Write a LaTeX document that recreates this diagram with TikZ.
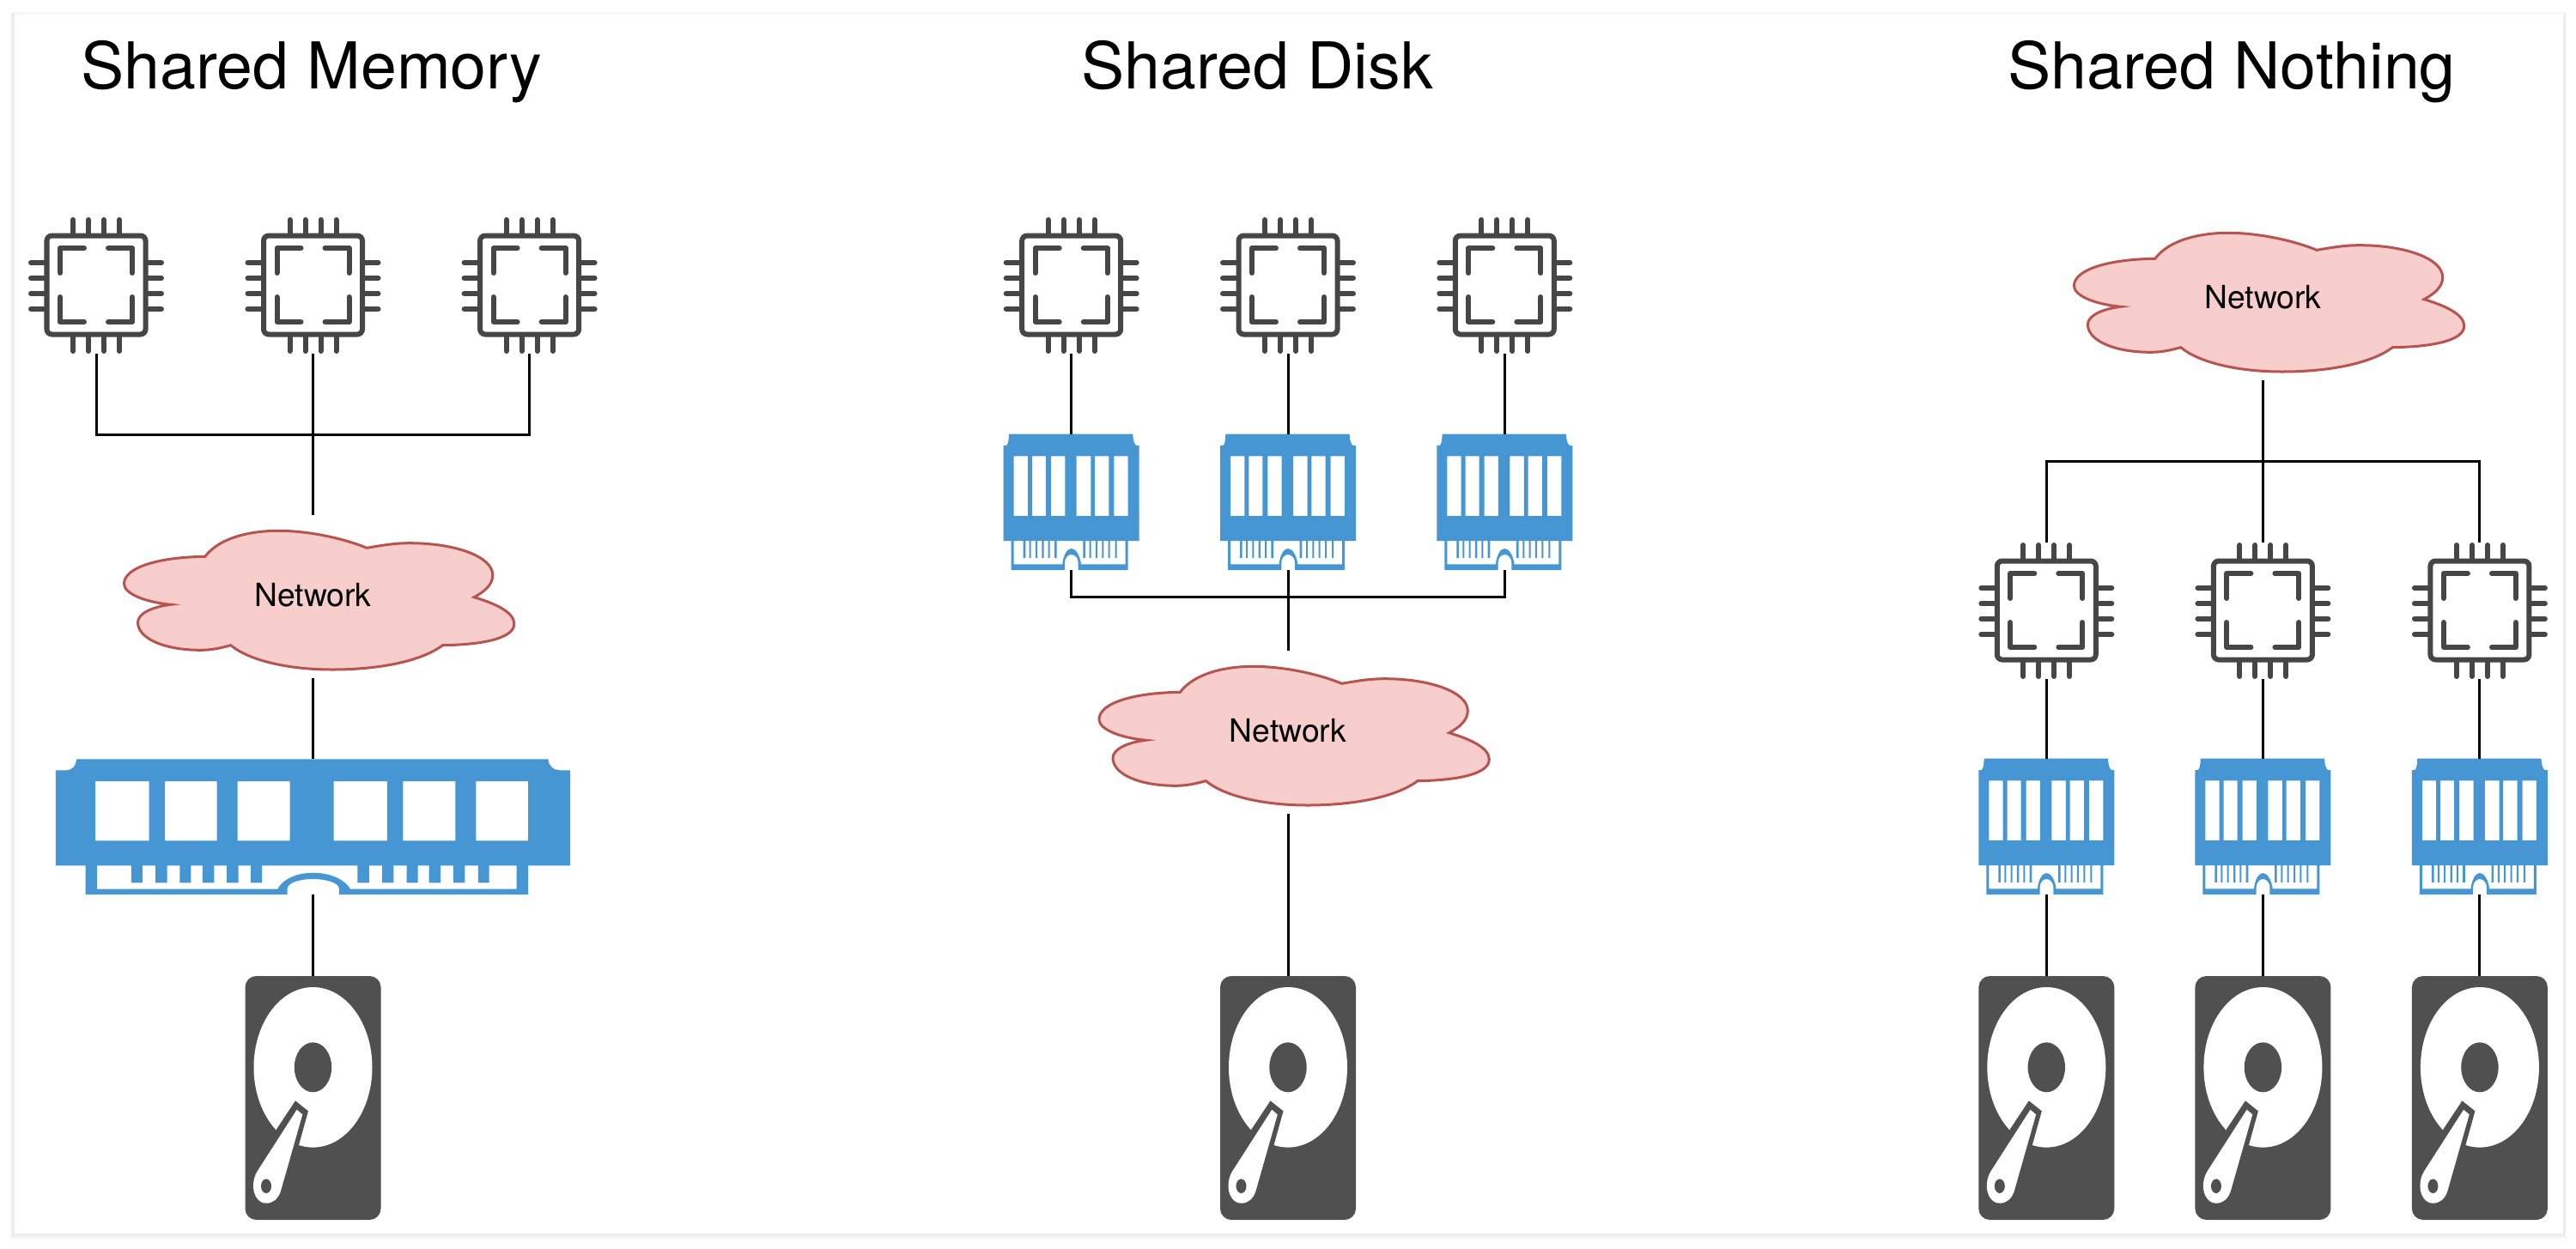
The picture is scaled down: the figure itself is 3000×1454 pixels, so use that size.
\documentclass[tikz,border=0pt]{standalone}
\usepackage{fontspec}
\setmainfont{TeX Gyre Heros}
\definecolor{ramblue}{HTML}{4596D2}
\definecolor{chipgray}{HTML}{464646}
\definecolor{diskgray}{HTML}{505050}
\definecolor{cloudfill}{HTML}{F8CECC}
\definecolor{cloudline}{HTML}{B85450}
\tikzset{
  link/.style={draw=black,line width=0.03cm},
  chipline/.style={draw=chipgray,line width=0.06cm,line cap=round},
  ramfill/.style={fill=ramblue,even odd rule},
  title/.style={font=\fontsize{21.4}{24}\selectfont,anchor=base west,inner sep=0pt},
  netlabel/.style={font=\fontsize{10.6}{12}\selectfont,inner sep=0pt},
  cpu/.pic={
    \draw[chipline,fill=white,rounded corners=0.06cm] (-57.5,-57.5) rectangle (57.5,57.5);
    % pins
    \draw[chipline] (-27,-76) -- (-27,-60) (-9,-76) -- (-9,-60) (9,-76) -- (9,-60) (27,-76) -- (27,-60)
      (-27,60) -- (-27,77) (-9,60) -- (-9,77) (9,60) -- (9,77) (27,60) -- (27,77)
      (-76,-26) -- (-60,-26) (-76,-8) -- (-60,-8) (-76,10) -- (-60,10) (-76,28) -- (-60,28)
      (60,-26) -- (76,-26) (60,-8) -- (76,-8) (60,10) -- (76,10) (60,28) -- (76,28);
    % inner corners
    \draw[chipline,line join=round] (-42,-14) -- (-42,-43) -- (-14,-43) (14,-43) -- (42,-43) -- (42,-14)
      (-42,14) -- (-42,43) -- (-14,43) (14,43) -- (42,43) -- (42,14);
    \coordinate (-n) at (0,-79);
    \coordinate (-s) at (0,80);
  },
  bigram/.pic={
    \fill[ramfill] (-275.6,-75.7) -- (274,-75.7) .. controls (274,-68) and (280,-62.7) .. (288.4,-62.7)
      -- (299.7,-62.7) -- (299.7,48.3) -- (250.5,48.3) -- (250.5,82) -- (30.4,82) -- (30.4,75)
      .. controls (30.4,69) and (17,64) .. (0,64) .. controls (-17,64) and (-29.8,69) .. (-29.8,75)
      -- (-29.8,82) -- (-265,82) -- (-265,48.3) -- (-299.6,48.3) -- (-299.6,-62.7) -- (-288,-62.7)
      .. controls (-280,-62.7) and (-275.6,-68) .. (-275.6,-75.7) -- cycle
      % windows
      (-253.3,-50) rectangle (-191,19.3) (-172.5,-50) rectangle (-111.9,19.3) (-87.9,-50) rectangle (-26.9,19.3)
      (24,-50) rectangle (86.4,19.3) (104.9,-50) rectangle (165.9,19.3) (189.9,-50) rectangle (250.5,19.3)
      % slot
      (-251.6,48.3) -- (237,48.3) -- (237,75.7) -- (43.4,75.7) .. controls (38,65) and (20,56.7) .. (0,56.7)
      .. controls (-20,56.7) and (-36,65) .. (-41.2,75.7) -- (-251.6,75.7) -- cycle;
    % teeth
    \fill[ramblue] (-211.6,48) rectangle (-198.6,68.3) (-183.4,48) rectangle (-170,68.3) (-155.2,48) rectangle (-142.2,68.3)
      (-128.7,48) rectangle (-115.2,68.3) (-100.5,48) rectangle (-87,68.3) (-72.3,48) rectangle (-59.3,68.3)
      (51.8,48) rectangle (65.3,68.3) (80.5,48) rectangle (93.9,68.3) (109.1,48) rectangle (122.1,68.3)
      (135.2,48) rectangle (148.6,68.3) (163.4,48) rectangle (176.8,68.3) (192.4,48) rectangle (205,68.3);
    \coordinate (-n) at (0,-76);
    \coordinate (-s) at (0,82);
  },
  ram/.pic={
    \fill[ramfill] (-72.7,-79.3) -- (71.6,-79.3) .. controls (71.6,-72) and (74,-66) .. (76,-66)
      -- (79,-66) -- (79,45) -- (66,45) -- (66,79) -- (8,79) -- (8,70)
      .. controls (8,65) and (4,61) .. (0,61) .. controls (-4,61) and (-7.7,65) .. (-7.7,70)
      -- (-7.7,79) -- (-70,79) -- (-70,45) -- (-79,45) -- (-79,-66) -- (-76,-66)
      .. controls (-74,-66) and (-72.7,-72) .. (-72.7,-79.3) -- cycle
      % windows
      (-67,-53.7) rectangle (-50.7,16) (-45.7,-53.7) rectangle (-29.7,16) (-23.7,-53.7) rectangle (-7.4,16)
      (6,-53.7) rectangle (22.6,16) (27.3,-53.7) rectangle (43.7,16) (49.6,-53.7) rectangle (66,16)
      % slot
      (-67,45) -- (63,45) -- (63,72.3) -- (11.3,72.3) .. controls (10,62) and (5,54) .. (0,54)
      .. controls (-5,54) and (-9.5,62) .. (-10.4,72.3) -- (-67,72.3) -- cycle;
    % teeth
    \fill[ramblue] (-56,44.8) rectangle (-53.4,65) (-49,44.8) rectangle (-47,65) (-41.7,44.8) rectangle (-39.7,65)
      (-34.4,44.8) rectangle (-32,65) (-27,44.8) rectangle (-25,65) (-19.7,44.8) rectangle (-17,65)
      (13.6,44.8) rectangle (16.3,65) (21,44.8) rectangle (23,65) (28.3,44.8) rectangle (30.3,65)
      (35.6,44.8) rectangle (37.6,65) (43,44.8) rectangle (45,65) (51,44.8) rectangle (53,65);
    \coordinate (-n) at (0,-79);
    \coordinate (-s) at (0,79);
  },
  hdd/.pic={
    \fill[diskgray,rounded corners=0.13cm] (-79,-142) rectangle (79,142);
    \fill[white] (0,-35.7) ellipse [x radius=69,y radius=93.3];
    \fill[diskgray] (0,-35.7) ellipse [x radius=21.7,y radius=29];
    % arm
    \fill[diskgray] (-42.8,37) -- (-20.5,3.3) -- (-5.5,15.3) -- (-16.8,56) -- (-40,90) -- cycle;
    \fill[white] (-18.8,13.7) -- (-12.2,19.3) -- (-37.8,109.3) .. controls (-41,118) and (-47,122.7) .. (-54.5,122.7)
      .. controls (-63,122.7) and (-69.5,114) .. (-69.5,102.7) .. controls (-69.5,96) and (-68,91) .. (-65.2,86) -- cycle;
    \fill[diskgray] (-54.5,102.7) ellipse [x radius=6,y radius=8.3];
    \coordinate (-n) at (0,-142);
  },
  netcloud/.pic={
    \draw[draw=cloudline,fill=cloudfill,line width=0.03cm] (-125.7,-44.7)
      .. controls (-108,-68) and (-70,-74.7) .. (-40.7,-74.7) .. controls (-5,-74.7) and (35,-66) .. (62.7,-54.7)
      .. controls (82,-58) and (95,-60.3) .. (112.7,-60.3) .. controls (165,-60.3) and (209.3,-45) .. (209.3,-23)
      .. controls (209.3,-12) and (200,-4) .. (187.7,2.7) .. controls (212,10) and (234.3,20) .. (234.3,33.7)
      .. controls (234.3,50) and (200,58) .. (151,58.7) .. controls (125,78) and (75,87) .. (22.7,87)
      .. controls (-30,87) and (-75,76) .. (-95.7,58.7) .. controls (-108,62) and (-118,64.3) .. (-130.7,64.3)
      .. controls (-175,64.3) and (-204,50) .. (-204,32) .. controls (-204,22) and (-188,14) .. (-165.7,11.3)
      .. controls (-198,8) and (-220,-2) .. (-220,-13) .. controls (-220,-32) and (-180,-44) .. (-125.7,-44.7) -- cycle;
    \node[netlabel] (-lbl) at (0,0) {Network};
    \coordinate (-n) at (0,-93);
    \coordinate (-s) at (0,97);
  },
}
\begin{document}
\begin{tikzpicture}[x=0.01cm,y=-0.01cm]
    \useasboundingbox (0,0) rectangle (3000,1454);
    % ---------------- sheet ----------------
    \draw[black!3,line width=0.03cm,fill=white] (15,15) rectangle (2986,1438);
    \draw[black!7,line width=0.03cm] (15,15) -- (15,1438) -- (2986,1438) -- (2986,15);
    \draw[black!4,line width=0.03cm] (12,1441) -- (2989,1441);
    % ---------------- shared memory ----------------
    \node[title] (title1) at (94,103) {Shared Memory};
    \pic (cpu1) at (112,332) {cpu};
    \pic (cpu2) at (364.5,332) {cpu};
    \pic (cpu3) at (616.6,332) {cpu};
    \pic (net1) at (364.5,693) {netcloud};
    \pic (mem1) at (364.5,960) {bigram};
    \pic (disk1) at (364.5,1279) {hdd};
    \coordinate (bus1) at (364.5,506);
    \draw[link] (cpu1-s) |- (bus1) -| (cpu3-s);
    \draw[link] (cpu2-s) -- (net1-n);
    \draw[link] (net1-s) -- (mem1-n);
    \draw[link] (mem1-s) -- (disk1-n);
    % ---------------- shared disk ----------------
    \node[title] (title2) at (1259,103) {Shared Disk};
    \pic (cpu4) at (1247.7,332) {cpu};
    \pic (cpu5) at (1500,332) {cpu};
    \pic (cpu6) at (1752.3,332) {cpu};
    \pic (mem2) at (1247.7,585) {ram};
    \pic (mem3) at (1500,585) {ram};
    \pic (mem4) at (1752.3,585) {ram};
    \pic (net2) at (1500,851) {netcloud};
    \pic (disk2) at (1500,1279) {hdd};
    \coordinate (bus2) at (1500,695);
    \draw[link] (cpu4-s) -- (mem2-n);
    \draw[link] (cpu5-s) -- (mem3-n);
    \draw[link] (cpu6-s) -- (mem4-n);
    \draw[link] (mem2-s) |- (bus2) -| (mem4-s);
    \draw[link] (mem3-s) -- (net2-n);
    \draw[link] (net2-s) -- (disk2-n);
    % ---------------- shared nothing ----------------
    \node[title] (title3) at (2338,103) {Shared Nothing};
    \pic (net3) at (2635.4,346) {netcloud};
    \pic (cpu7) at (2383.3,711) {cpu};
    \pic (cpu8) at (2635.4,711) {cpu};
    \pic (cpu9) at (2887.9,711) {cpu};
    \pic (mem5) at (2383.3,963) {ram};
    \pic (mem6) at (2635.4,963) {ram};
    \pic (mem7) at (2887.9,963) {ram};
    \pic (disk3) at (2383.3,1279) {hdd};
    \pic (disk4) at (2635.4,1279) {hdd};
    \pic (disk5) at (2887.9,1279) {hdd};
    \coordinate (bus3) at (2635.4,537);
    \draw[link] (cpu7-n) |- (bus3) -| (cpu9-n);
    \draw[link] (net3-s) -- (cpu8-n);
    \draw[link] (cpu7-s) -- (mem5-n);
    \draw[link] (cpu8-s) -- (mem6-n);
    \draw[link] (cpu9-s) -- (mem7-n);
    \draw[link] (mem5-s) -- (disk3-n);
    \draw[link] (mem6-s) -- (disk4-n);
    \draw[link] (mem7-s) -- (disk5-n);
\end{tikzpicture}
\end{document}
